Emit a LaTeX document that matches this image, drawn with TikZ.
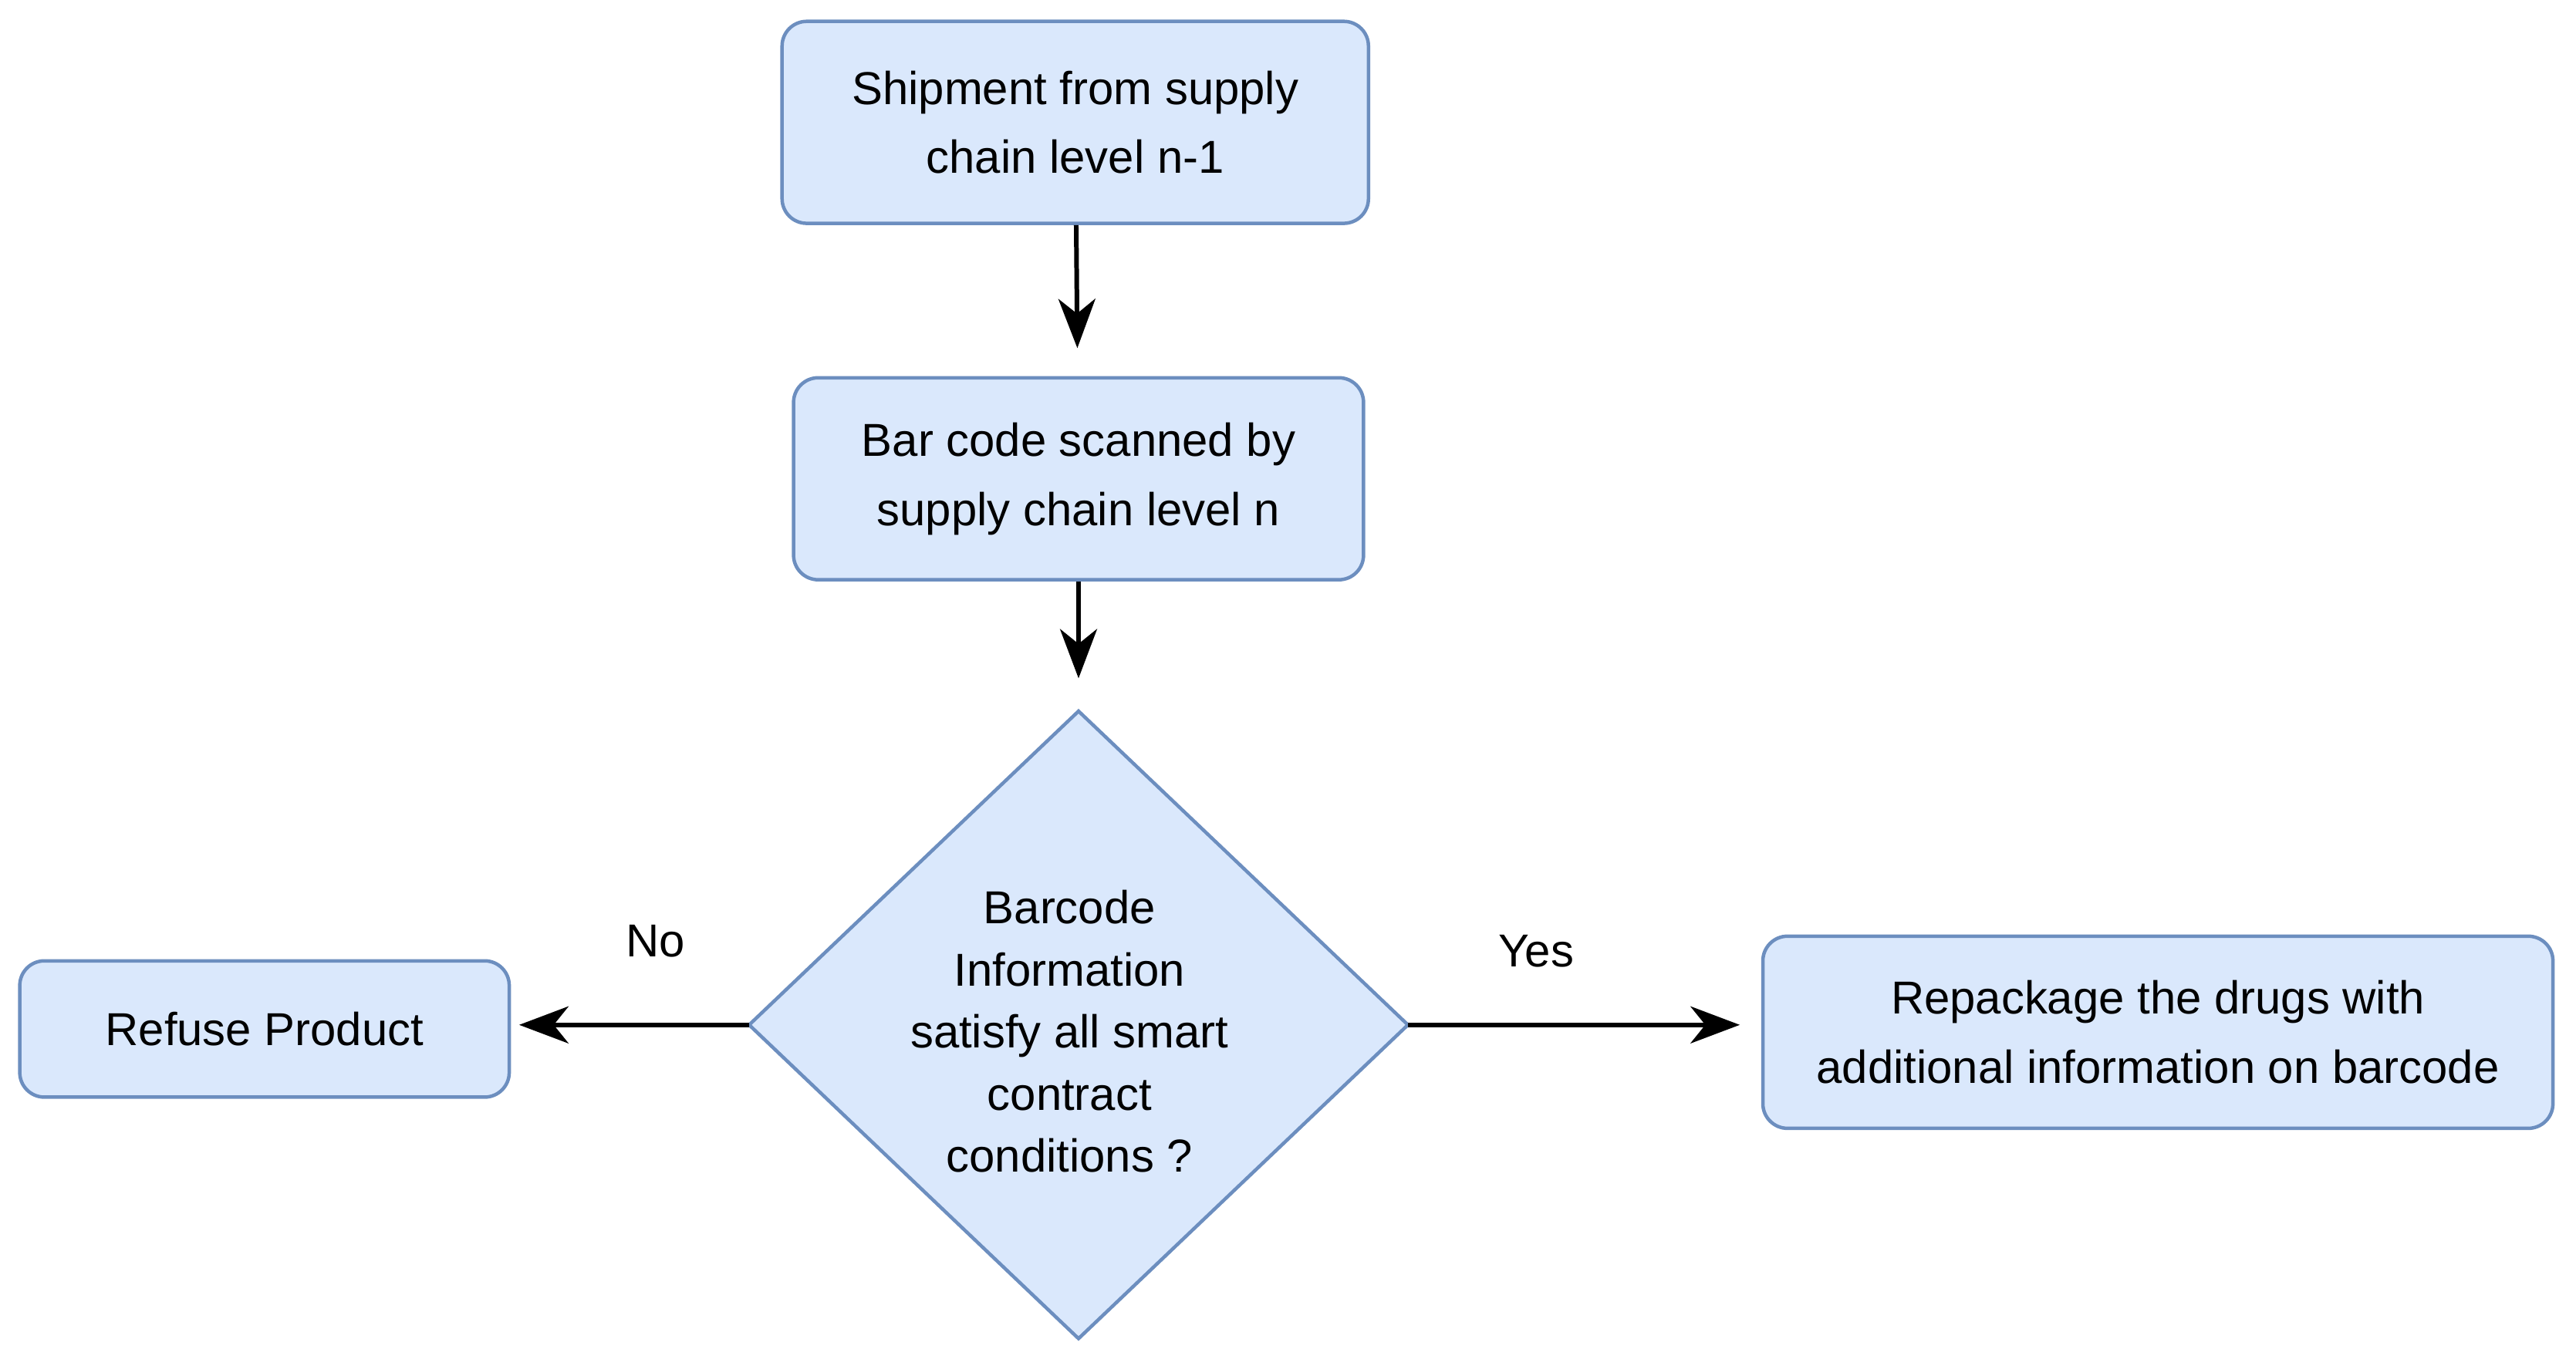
\documentclass[tikz,border=0pt]{standalone}
\usepackage{fontspec}
\setmainfont{Liberation Sans}
\usetikzlibrary{arrows.meta}
\definecolor{bfill}{HTML}{DAE8FC}
\definecolor{bdraw}{HTML}{6C8EBF}
\begin{document}
\begin{tikzpicture}[x=0.02cm,y=-0.02cm,
  box/.style={draw=bdraw,fill=bfill,line width=1.2pt,rounded corners=0.3cm,align=center,
    font=\fontsize{16}{24}\selectfont,inner sep=0pt},
  arr/.style={line width=1.6pt,-{Stealth[length=0.6cm,width=0.45cm,inset=0.18cm]}},
  lab/.style={font=\fontsize{16}{24}\selectfont}]
\useasboundingbox (0,0) rectangle (1568,827);
\node[box,minimum width=7.14cm,minimum height=2.46cm] (b1) at (654.5,74.5) {Shipment from supply\\chain level n-1};
\node[box,minimum width=6.94cm,minimum height=2.46cm] (b2) at (656.5,291.5) {Bar code scanned by\\supply chain level n};
\coordinate (dt) at (656.5,433);
\coordinate (db) at (656.5,815);
\coordinate (dl) at (456,624);
\coordinate (dr) at (857,624);
\draw[draw=bdraw,fill=bfill,line width=1.2pt] (dt) -- (dr) -- (db) -- (dl) -- cycle;
\node[align=center,font=\fontsize{16}{21.5}\selectfont] (d) at (651,628) {Barcode\\Information\\satisfy all smart\\contract\\conditions ?};
\node[box,minimum width=5.96cm,minimum height=1.66cm] (r) at (161,626.5) {Refuse Product};
\node[box,minimum width=9.62cm,minimum height=2.34cm] (p) at (1313.5,628.5) {Repackage the drugs with\\additional information on barcode};
\draw[arr,shorten >=0.34cm] (b1) -- (b2);
\draw[arr,shorten >=0.4cm] (b2) -- (dt);
\draw[arr,shorten >=0.1cm] (dl) -- (r.east|-dl);
\draw[arr,shorten >=0.26cm] (dr) -- (p.west|-dr);
\node[lab] (no) at (399,573) {No};
\node[lab] (yes) at (935,579) {Yes};
\end{tikzpicture}
\end{document}
